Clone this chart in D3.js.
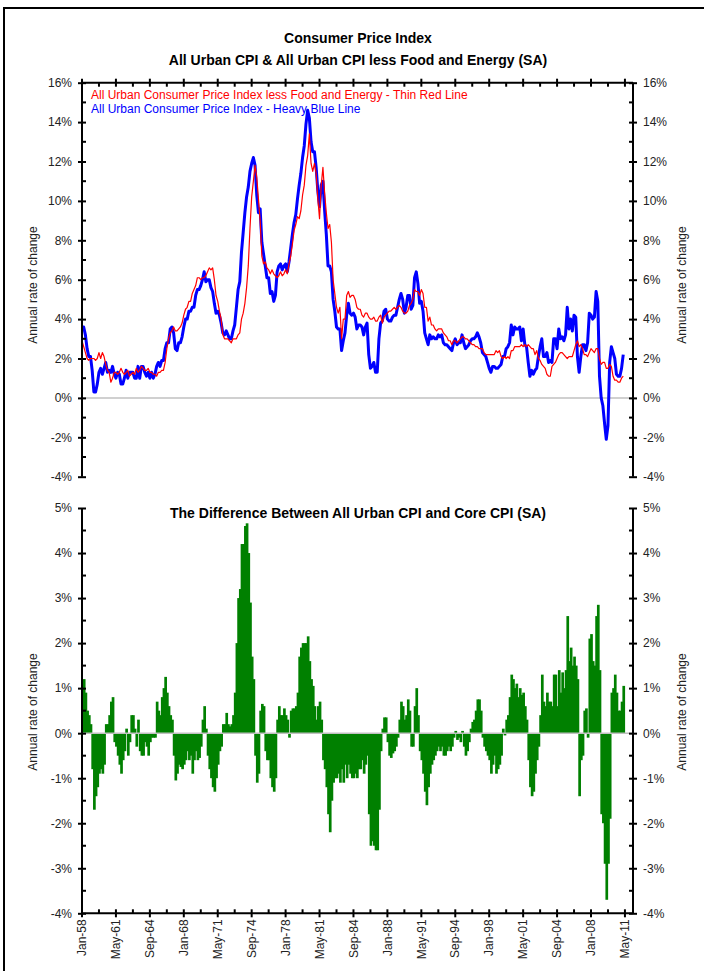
<!DOCTYPE html>
<html>
<head>
<meta charset="utf-8">
<script src="https://cdn.jsdelivr.net/npm/d3@7"></script>
<style>
  body { margin: 0; background: #fff; }
  svg { display: block; font-family: "Liberation Sans", Arial, sans-serif; }
</style>
</head>
<body>
<svg width="704" height="971"></svg>
<script>
// bimonthly observations (Jan, Mar, May, Jul, Sep, Nov), starting Jan-58
const startYear = 1958;
const stepMonths = 2;

// All Urban CPI, annual rate of change (%)
const cpiAll = [
  3.6, 3.6, 3.2, 2.5, 2.1, 2.1,    // 1958
  1.4, 0.3, 0.3, 0.7, 1.3, 1.5,    // 1959
  1.2, 1.5, 1.8, 1.3, 1.4, 1.3,    // 1960
  1.6, 1.2, 1.0, 1.3, 1.2, 0.7,    // 1961
  0.7, 1.0, 1.4, 1.0, 1.3, 1.3,    // 1962
  1.3, 1.0, 1.0, 1.6, 1.0, 1.6,    // 1963
  1.6, 1.3, 1.1, 1.3, 1.0, 1.3,    // 1964
  1.0, 1.2, 1.6, 1.8, 1.6, 1.9,    // 1965
  1.9, 2.5, 2.8, 2.8, 3.5, 3.6,    // 1966
  3.3, 2.5, 2.4, 2.8, 2.8, 3.1,    // 1967
  3.6, 4.0, 4.0, 4.4, 4.4, 4.6,    // 1968
  4.6, 5.2, 5.5, 5.5, 5.7, 6.0,    // 1969
  6.4, 5.9, 6.0, 6.0, 5.6, 5.4,    // 1970
  4.8, 4.3, 4.4, 4.2, 3.8, 3.3,    // 1971
  3.2, 3.4, 3.2, 3.0, 3.0, 3.4,    // 1972
  3.7, 4.6, 5.5, 5.9, 7.4, 8.4,    // 1973
  9.4, 10.2, 10.7, 11.5, 11.9, 12.2, // 1974
  11.8, 10.3, 9.4, 9.6, 7.9, 7.3,  // 1975
  6.7, 6.1, 6.1, 5.3, 5.4, 4.9,    // 1976
  5.2, 6.4, 6.7, 6.8, 6.5, 6.7,    // 1977
  6.8, 6.4, 6.9, 7.6, 8.3, 8.9,    // 1978
  9.3, 10.1, 10.8, 11.4, 12.2, 12.8, // 1979
  13.9, 14.6, 14.2, 13.0, 12.5, 12.5, // 1980
  11.7, 10.5, 9.7, 10.8, 11.0, 9.5, // 1981
  8.3, 6.7, 6.7, 6.4, 5.0, 4.4,    // 1982
  3.6, 3.5, 3.5, 2.4, 2.9, 3.3,    // 1983
  4.2, 4.8, 4.3, 4.2, 4.3, 4.1,    // 1984
  3.5, 3.7, 3.7, 3.6, 3.2, 3.6,    // 1985
  3.8, 2.2, 1.5, 1.6, 1.8, 1.3,    // 1986
  1.3, 3.0, 3.8, 3.9, 4.4, 4.5,    // 1987
  4.0, 3.9, 3.9, 4.1, 4.2, 4.2,    // 1988
  4.6, 5.0, 5.3, 5.0, 4.3, 4.6,    // 1989
  5.2, 5.2, 4.5, 4.7, 6.1, 6.4,    // 1990
  5.8, 4.8, 4.9, 4.4, 3.3, 3.0,    // 1991
  2.7, 3.2, 3.0, 3.1, 3.0, 3.0,    // 1992
  3.2, 3.1, 3.2, 2.8, 2.7, 2.7,    // 1993
  2.6, 2.5, 2.4, 2.8, 3.0, 2.7,    // 1994
  2.8, 2.8, 3.2, 2.8, 2.5, 2.6,    // 1995
  2.7, 2.9, 3.0, 3.0, 3.1, 3.3,    // 1996
  3.1, 2.8, 2.3, 2.2, 2.1, 1.8,    // 1997
  1.5, 1.3, 1.6, 1.6, 1.5, 1.5,    // 1998
  1.6, 1.7, 2.1, 2.1, 2.5, 2.6,    // 1999
  2.8, 3.7, 3.2, 3.6, 3.5, 3.5,    // 2000
  3.6, 2.9, 3.5, 2.7, 2.6, 1.8,    // 2001
  1.1, 1.4, 1.2, 1.4, 1.5, 2.1,    // 2002
  2.6, 3.0, 2.1, 2.1, 2.3, 1.8,    // 2003
  1.9, 1.8, 3.0, 3.0, 2.5, 3.5,    // 2004
  3.0, 3.1, 2.9, 3.2, 4.6, 3.5,    // 2005
  4.0, 3.4, 4.2, 4.1, 2.1, 1.3,    // 2006
  2.1, 2.7, 2.7, 2.4, 2.8, 4.3,    // 2007
  4.2, 4.0, 4.1, 5.4, 4.9, 1.1,    // 2008
  0.0, -0.4, -1.3, -2.1, -1.4, 1.8, // 2009
  2.6, 2.3, 2.0, 1.2, 1.1, 1.1,    // 2010
  1.5, 2.2                          // 2011
];

// All Urban CPI less Food and Energy, annual rate of change (%)
const cpiCore = [
  2.9, 2.6, 2.3, 2.0, 1.9, 2.0,    // 1958
  2.0, 2.0, 1.9, 2.0, 2.3, 2.0,    // 1959
  2.3, 2.1, 1.7, 1.4, 1.3, 0.8,    // 1960
  1.0, 1.3, 1.3, 1.2, 1.3, 1.5,    // 1961
  1.3, 1.2, 1.3, 1.4, 1.1, 1.2,    // 1962
  1.3, 1.2, 1.5, 1.3, 1.4, 1.6,    // 1963
  1.5, 1.4, 1.4, 1.5, 1.3, 1.3,    // 1964
  1.2, 1.2, 1.1, 1.3, 1.3, 1.4,    // 1965
  1.4, 1.8, 2.5, 3.0, 3.3, 3.4,    // 1966
  3.6, 3.4, 3.4, 3.5, 3.6, 3.8,    // 1967
  4.2, 4.5, 4.6, 4.9, 4.9, 5.3,    // 1968
  5.5, 5.7, 6.1, 6.1, 6.0, 6.1,    // 1969
  6.1, 6.2, 6.4, 6.6, 6.5, 6.6,    // 1970
  6.0, 5.2, 4.9, 4.4, 4.0, 3.2,    // 1971
  3.0, 3.0, 3.0, 2.9, 2.8, 3.0,    // 1972
  3.0, 3.0, 3.2, 3.3, 4.0, 4.3,    // 1973
  4.8, 5.6, 6.7, 8.6, 10.2, 11.0,  // 1974
  11.8, 11.2, 10.1, 9.0, 7.2, 6.8, // 1975
  6.9, 6.6, 6.5, 6.3, 6.5, 6.3,    // 1976
  6.2, 6.1, 6.2, 6.4, 6.2, 6.3,    // 1977
  6.5, 6.3, 6.8, 7.2, 7.8, 8.5,    // 1978
  8.8, 9.2, 9.1, 9.5, 10.3, 10.8,  // 1979
  11.8, 12.3, 13.4, 11.9, 11.5, 11.9, // 1980
  11.4, 10.1, 9.1, 10.8, 11.7, 10.4, // 1981
  9.4, 8.6, 8.8, 7.9, 6.0, 5.3,    // 1982
  4.6, 4.3, 4.6, 3.0, 4.0, 4.0,    // 1983
  5.2, 5.4, 5.1, 5.2, 5.2, 5.0,    // 1984
  4.6, 4.5, 4.5, 4.2, 4.1, 4.3,    // 1985
  4.3, 4.1, 4.0, 4.0, 4.1, 3.9,    // 1986
  3.9, 4.1, 4.2, 3.8, 4.1, 4.2,    // 1987
  4.3, 4.4, 4.4, 4.5, 4.6, 4.5,    // 1988
  4.6, 4.7, 4.6, 4.4, 4.3, 4.3,    // 1989
  4.4, 4.7, 4.8, 5.0, 5.5, 5.4,    // 1990
  5.4, 5.2, 5.5, 5.3, 4.6, 4.6,    // 1991
  3.9, 4.1, 3.7, 3.7, 3.5, 3.4,    // 1992
  3.5, 3.5, 3.5, 3.3, 3.2, 3.1,    // 1993
  2.9, 2.9, 2.7, 2.9, 2.9, 2.8,    // 1994
  2.9, 3.0, 3.1, 3.1, 3.0, 3.0,    // 1995
  2.9, 2.8, 2.7, 2.7, 2.6, 2.6,    // 1996
  2.5, 2.5, 2.5, 2.3, 2.2, 2.2,    // 1997
  2.2, 2.2, 2.2, 2.2, 2.4, 2.3,    // 1998
  2.4, 2.1, 2.0, 2.1, 2.0, 2.1,    // 1999
  2.0, 2.4, 2.4, 2.6, 2.6, 2.6,    // 2000
  2.6, 2.7, 2.6, 2.7, 2.6, 2.7,    // 2001
  2.6, 2.5, 2.5, 2.2, 2.4, 2.0,    // 2002
  1.9, 1.7, 1.6, 1.5, 1.2, 1.1,    // 2003
  1.1, 1.6, 1.7, 1.8, 2.0, 2.2,    // 2004
  2.3, 2.3, 2.2, 2.1, 2.0, 2.1,    // 2005
  2.1, 2.1, 2.4, 2.7, 2.9, 2.6,    // 2006
  2.7, 2.5, 2.2, 2.2, 2.1, 2.3,    // 2007
  2.5, 2.4, 2.3, 2.5, 2.5, 2.0,    // 2008
  1.7, 1.8, 1.8, 1.5, 1.5, 1.7,    // 2009
  1.6, 1.1, 0.9, 0.9, 0.8, 0.8,    // 2010
  1.0, 1.1                          // 2011
];

// difference between All Urban CPI and Core CPI (percentage points)
const cpiDiff = [
  0.9, 1.2, 0.9, 0.5, 0.4, 0.2,    // 1958
  -0.8, -1.7, -1.4, -1.2, -0.9, -0.8, // 1959
  -0.9, -0.7, 0.2, 0.2, 0.4, 0.7,  // 1960
  0.8, -0.2, -0.3, -0.5, -0.7, -0.9, // 1961
  -0.6, -0.4, 0.1, -0.5, -0.2, 0.4, // 1962
  0.4, 0.1, -0.3, 0.3, -0.4, -0.5, // 1963
  -0.5, -0.2, -0.3, -0.5, -0.2, -0.1, // 1964
  -0.1, -0.1, 0.7, 0.5, 0.4, 0.8,  // 1965
  1.0, 1.25, 0.9, 0.6, 0.4, 0.3,   // 1966
  -0.5, -1.05, -0.9, -0.7, -0.75, -0.8, // 1967
  -0.7, -0.6, -0.4, -0.6, -0.5, -0.9, // 1968
  -0.6, -0.4, -0.6, -0.55, -0.3, 0.3, // 1969
  0.6, 0.1, -0.5, -0.8, -1.0, -1.2, // 1970
  -1.3, -1.0, -0.7, -0.4, -0.3, 0.2, // 1971
  0.2, 0.45, 0.2, 0.15, 0.2, 0.4,  // 1972
  0.9, 2.0, 3.0, 3.2, 4.2, 4.2,    // 1973
  4.6, 4.66, 4.0, 2.9, 1.7, 1.2,   // 1974
  -0.5, -1.1, -0.9, 0.5, 0.65, 0.6, // 1975
  -0.4, -0.6, -0.6, -1.0, -1.2, -1.3, // 1976
  -1.0, 0.3, 0.6, 0.4, 0.4, 0.55,  // 1977
  0.4, 0.3, -0.1, 0.5, 0.55, 0.55, // 1978
  0.6, 0.9, 1.7, 1.9, 2.0, 2.0,    // 1979
  2.0, 2.15, 1.6, 1.2, 1.05, 0.6,  // 1980
  0.3, 0.6, 0.7, 0.3, -0.6, -0.8,  // 1981
  -1.2, -1.8, -2.2, -1.5, -1.1, -1.0, // 1982
  -1.0, -0.9, -1.1, -0.8, -1.1, -0.7, // 1983
  -1.0, -0.7, -0.9, -1.0, -1.0, -0.9, // 1984
  -1.0, -0.8, -0.8, -0.6, -0.9, -0.7, // 1985
  -0.5, -1.8, -2.5, -2.4, -2.5, -2.6, // 1986
  -2.6, -1.7, -0.4, 0.1, 0.35, 0.35, // 1987
  -0.2, -0.5, -0.55, -0.45, -0.4, -0.3, // 1988
  -0.1, 0.3, 0.7, 0.6, 0.3, 0.4,   // 1989
  0.75, 0.5, -0.3, -0.3, 0.6, 1.0, // 1990
  0.4, -0.4, -0.6, -0.9, -1.3, -1.6, // 1991
  -1.2, -0.9, -0.7, -0.6, -0.5, -0.4, // 1992
  -0.3, -0.4, -0.3, -0.5, -0.5, -0.4, // 1993
  -0.3, -0.4, -0.3, -0.1, 0.05, -0.15, // 1994
  -0.1, -0.2, 0.05, -0.3, -0.5, -0.4, // 1995
  -0.2, 0.1, 0.25, 0.3, 0.5, 0.75, // 1996
  0.75, 0.5, -0.1, -0.3, -0.4, -0.5, // 1997
  -0.6, -0.9, -0.7, -0.5, -0.9, -0.8, // 1998
  -0.7, -0.5, 0.1, -0.05, 0.3, 0.4, // 1999
  0.8, 1.3, 1.2, 1.0, 1.1, 0.8,    // 2000
  1.0, 0.85, 0.9, 0.6, 0.3, -0.6,  // 2001
  -1.2, -1.4, -1.3, -0.9, -0.6, -0.3, // 2002
  0.4, 1.3, 0.7, 0.6, 0.9, 0.7,    // 2003
  0.7, 0.6, 1.3, 1.3, 0.6, 1.4,    // 2004
  0.9, 1.35, 1.0, 1.4, 2.6, 1.6,   // 2005
  1.9, 1.5, 1.7, 1.5, 1.2, -1.4,   // 2006
  -0.6, -0.5, 0.5, 0.55, -0.1, 2.1, // 2007
  2.2, 1.6, 1.5, 2.6, 2.85, 1.4,   // 2008
  -1.8, -2.0, -2.9, -3.7, -2.9, -1.9, // 2009
  0.9, 1.0, 1.3, 0.9, 0.5, 0.5,    // 2010
  0.7, 1.05                         // 2011
];

// x axis tick labels, every 40 months from Jan-58
const xTickLabels = ["Jan-58", "May-61", "Sep-64", "Jan-68", "May-71", "Sep-74",
  "Jan-78", "May-81", "Sep-84", "Jan-88", "May-91", "Sep-94", "Jan-98",
  "May-01", "Sep-04", "Jan-08", "May-11"];
const xTickStep = 40;

const topTicks = [-4, -2, 0, 2, 4, 6, 8, 10, 12, 14, 16];
const botTicks = [-4, -3, -2, -1, 0, 1, 2, 3, 4, 5];

// layout
var plotLeft = 82, plotRight = 633;
var top1 = 82.7, bottom1 = 476.7;
var top2 = 508, bottom2 = 913.3;

var svg = d3.select("svg");

// frame
svg.append("path")
  .attr("d", "M4,971 L4,8 L704,8")
  .attr("fill", "none").attr("stroke", "#000").attr("stroke-width", 2);

var x = d3.scaleLinear().domain([0, 649.5]).range([plotLeft, plotRight]);
var yTop = d3.scaleLinear().domain([-4, 16]).range([bottom1, top1]);
var yBot = d3.scaleLinear().domain([-4, 5]).range([bottom2, top2]);

var fmtPct = function (d) { return d + "%"; };

// titles
svg.append("text").attr("x", 358).attr("y", 43).attr("text-anchor", "middle")
  .style("font-size", "14px").style("font-weight", "bold")
  .text("Consumer Price Index");
svg.append("text").attr("x", 358).attr("y", 65).attr("text-anchor", "middle")
  .style("font-size", "14px").style("font-weight", "bold")
  .text("All Urban CPI & All Urban CPI less Food and Energy (SA)");
svg.append("text").attr("x", 358).attr("y", 518).attr("text-anchor", "middle")
  .style("font-size", "14px").style("font-weight", "bold")
  .text("The Difference Between All Urban CPI and Core CPI (SA)");

// y axis titles
[[33, 285], [682, 285], [33, 712], [682, 712]].forEach(function (p) {
  svg.append("text")
    .attr("transform", "translate(" + p[0] + "," + p[1] + ") rotate(-90)")
    .attr("text-anchor", "middle").attr("dy", "0.35em")
    .style("font-size", "12px").attr("fill", "#222")
    .text("Annual rate of change");
});

// draws a pair of y axes with crossing major ticks and inside minor ticks
function drawYAxes(y, ticks, minorStep) {
  var minor = [];
  for (var v = ticks[0]; v < ticks[ticks.length - 1]; v += minorStep * 2) minor.push(v + minorStep);

  [["left", plotLeft], ["right", plotRight]].forEach(function (side) {
    var isLeft = side[0] == "left";
    var axis = (isLeft ? d3.axisLeft(y) : d3.axisRight(y))
      .tickValues(ticks).tickFormat(fmtPct).tickSize(4).tickPadding(6);
    var g = svg.append("g")
      .attr("transform", "translate(" + side[1] + ",0)")
      .call(axis);
    g.select(".domain").remove();
    g.selectAll(".tick line")
      .attr("x1", -4).attr("x2", 4)
      .attr("stroke", "#000").attr("stroke-width", 2);
    g.selectAll(".tick text")
      .style("font-size", "12px").style("font-family", "Liberation Sans, Arial, sans-serif")
      .attr("fill", "#222");

    g.selectAll(".minor").data(minor).enter().append("line")
      .attr("x1", 0).attr("x2", isLeft ? 4 : -4)
      .attr("y1", function (d) { return y(d); })
      .attr("y2", function (d) { return y(d); })
      .attr("stroke", "#000").attr("stroke-width", 2);

    g.append("line")
      .attr("x1", 0).attr("x2", 0)
      .attr("y1", y.range()[0]).attr("y2", y.range()[1])
      .attr("stroke", "#000").attr("stroke-width", 2);
  });
}

// horizontal date axis (ticks only, labels optional)
function drawXAxis(yPos, inward, withLabels) {
  var g = svg.append("g");
  var major = xTickLabels.map(function (d, i) { return i * xTickStep; });
  var minor = major.slice(0, -1).map(function (m) { return m + xTickStep / 2; });

  g.append("line")
    .attr("x1", plotLeft).attr("x2", plotRight)
    .attr("y1", yPos).attr("y2", yPos)
    .attr("stroke", "#000").attr("stroke-width", 2);

  g.selectAll(".major").data(major).enter().append("line")
    .attr("x1", function (d) { return x(d); }).attr("x2", function (d) { return x(d); })
    .attr("y1", yPos - 4).attr("y2", yPos + 4)
    .attr("stroke", "#000").attr("stroke-width", 2);

  g.selectAll(".minor").data(minor).enter().append("line")
    .attr("x1", function (d) { return x(d); }).attr("x2", function (d) { return x(d); })
    .attr("y1", yPos).attr("y2", yPos + 4 * inward)
    .attr("stroke", "#000").attr("stroke-width", 2);

  if (withLabels) {
    g.selectAll(".lbl").data(xTickLabels).enter().append("text")
      .attr("transform", function (d, i) {
        return "translate(" + x(major[i]) + "," + (yPos + 6) + ") rotate(-90)";
      })
      .attr("text-anchor", "end").attr("dy", "0.35em")
      .style("font-size", "12px").attr("fill", "#222")
      .text(function (d) { return d; });
  }
}

// ---- top panel ----
svg.append("line")
  .attr("x1", plotLeft).attr("x2", plotRight)
  .attr("y1", yTop(0)).attr("y2", yTop(0))
  .attr("stroke", "#c0c0c0").attr("stroke-width", 1.5);

var line = d3.line()
  .x(function (d, i) { return x(i * stepMonths); })
  .y(function (d) { return yTop(d); });

svg.append("path").datum(cpiAll)
  .attr("d", line).attr("fill", "none")
  .attr("stroke", "#0000ff").attr("stroke-width", 3).attr("stroke-linejoin", "round");

svg.append("path").datum(cpiCore)
  .attr("d", line).attr("fill", "none")
  .attr("stroke", "#ff0000").attr("stroke-width", 1.2).attr("stroke-linejoin", "round");

svg.append("text").attr("x", 91).attr("y", 99)
  .style("font-size", "12px").attr("fill", "#ff0000")
  .text("All Urban Consumer Price Index less Food and Energy - Thin Red Line");
svg.append("text").attr("x", 91).attr("y", 113)
  .style("font-size", "12px").attr("fill", "#0000ff")
  .text("All Urban Consumer Price Index - Heavy Blue Line");

drawYAxes(yTop, topTicks, 1);
drawXAxis(top1, 1, false);

// ---- bottom panel ----
var bw = x(stepMonths) - x(0);
svg.selectAll(".bar").data(cpiDiff).enter().append("rect")
  .attr("class", "bar")
  .attr("x", function (d, i) { return x(i * stepMonths) - bw / 2; })
  .attr("width", bw + 1)
  .attr("y", function (d) { return yBot(Math.max(0, d)); })
  .attr("height", function (d) { return Math.abs(yBot(d) - yBot(0)); })
  .attr("fill", "#008000");

svg.append("line")
  .attr("x1", plotLeft).attr("x2", plotRight)
  .attr("y1", yBot(0)).attr("y2", yBot(0))
  .attr("stroke", "#c0c0c0").attr("stroke-width", 1.5);

drawYAxes(yBot, botTicks, 0.5);
drawXAxis(bottom2, -1, true);
</script>
</body>
</html>
